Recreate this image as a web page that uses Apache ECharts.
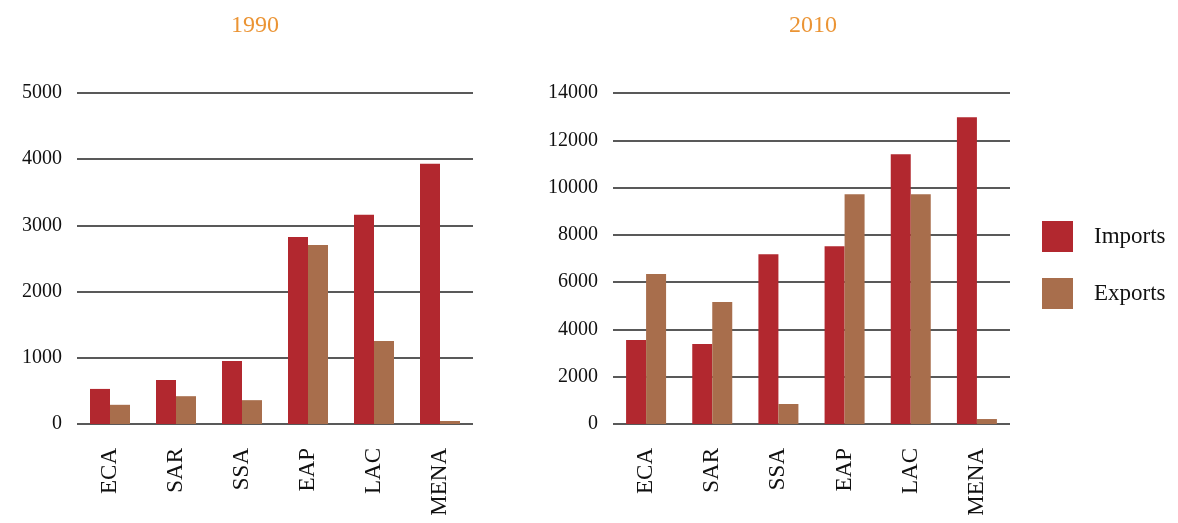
<!DOCTYPE html>
<html>
<head>
<meta charset="utf-8">
<script src="https://cdn.jsdelivr.net/npm/echarts@6/dist/echarts.min.js"></script>
<style>
html,body{margin:0;padding:0;background:#fff;}
#main{width:1178px;height:523px;}
</style>
</head>
<body>
<div id="main"></div>
<script>
// regions
var regions = ['ECA', 'SAR', 'SSA', 'EAP', 'LAC', 'MENA'];

// 1990
var imports1990 = [530, 665, 950, 2825, 3160, 3930];
var exports1990 = [290, 420, 360, 2705, 1255, 45];

// 2010
var imports2010 = [3550, 3380, 7185, 7520, 11410, 12975];
var exports2010 = [6340, 5160, 845, 9720, 9720, 210];

var font = 'Liberation Serif';
var red = '#b2282f', brown = '#a86e4c';

function xAxisFor(idx){
    return {
        type: 'category',
        gridIndex: idx,
        data: regions,
        axisLine: {show: false},
        axisTick: {show: false},
        axisLabel: {rotate: 90, margin: 24, fontFamily: font, fontSize: 23, color: '#111'}
    };
}
function yAxisFor(idx, max, step){
    return {
        type: 'value',
        gridIndex: idx,
        min: 0, max: max, interval: step,
        axisLine: {show: false},
        axisTick: {show: false},
        axisLabel: {margin: 15, fontFamily: font, fontSize: 20, color: '#111',
                    formatter: function(v){ return String(v); }},
        splitLine: {lineStyle: {color: '#222', width: 1.5}}
    };
}

var chart = echarts.init(document.getElementById('main'));
chart.setOption({
    backgroundColor: '#fff',
    animation: false,
    title: [
        {text: '1990', left: 231, top: 14, padding: 0,
         textStyle: {color: '#eb9434', fontFamily: font, fontSize: 24, fontWeight: 'normal'}},
        {text: '2010', left: 789, top: 14, padding: 0,
         textStyle: {color: '#eb9434', fontFamily: font, fontSize: 24, fontWeight: 'normal'}}
    ],
    legend: {
        data: ['Imports', 'Exports'],
        orient: 'vertical',
        left: 1042, top: 221, padding: 0,
        itemWidth: 31, itemHeight: 31, itemGap: 26,
        icon: 'rect',
        textStyle: {fontFamily: font, fontSize: 23, color: '#111', padding: [0, 0, 0, 16]}
    },
    grid: [
        {left: 77, width: 396, top: 93, height: 331},
        {left: 613, width: 397, top: 93, height: 331}
    ],
    xAxis: [xAxisFor(0), xAxisFor(1)],
    yAxis: [yAxisFor(0, 5000, 1000), yAxisFor(1, 14000, 2000)],
    series: [
        {name: 'Imports', type: 'bar', xAxisIndex: 0, yAxisIndex: 0, data: imports1990,
         barWidth: 20, barGap: 0, itemStyle: {color: red}},
        {name: 'Exports', type: 'bar', xAxisIndex: 0, yAxisIndex: 0, data: exports1990,
         barWidth: 20, barGap: 0, itemStyle: {color: brown}},
        {name: 'Imports', type: 'bar', xAxisIndex: 1, yAxisIndex: 1, data: imports2010,
         barWidth: 20, barGap: 0, itemStyle: {color: red}},
        {name: 'Exports', type: 'bar', xAxisIndex: 1, yAxisIndex: 1, data: exports2010,
         barWidth: 20, barGap: 0, itemStyle: {color: brown}}
    ]
});
</script>
</body>
</html>
